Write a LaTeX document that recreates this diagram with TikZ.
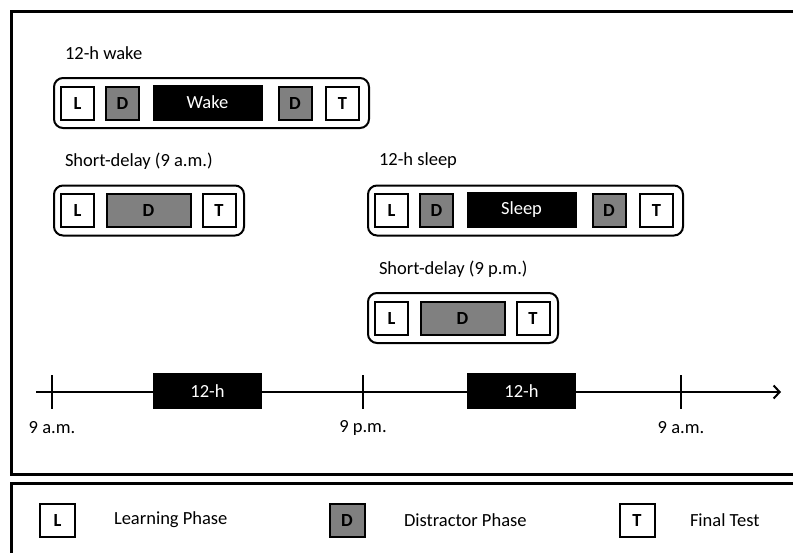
\documentclass[tikz,border=0pt]{standalone}
\usepackage{fontspec}
\setmainfont{Carlito}
\usepackage{tikz}
\usetikzlibrary{arrows.meta,positioning}

\newcommand{\figfont}{\fontsize{18.5}{22}\selectfont}

\tikzset{
  phase/.style={draw, line width=2pt, minimum width=33pt, minimum height=33pt, inner sep=0pt, font=\figfont\bfseries},
  distract/.style={phase, fill=gray},
  block/.style={fill=black, text=white, minimum height=36pt, inner sep=0pt, font=\figfont},
  protocol/.style={draw, line width=2pt, rounded corners=9pt, minimum height=50pt, inner sep=0pt},
  caption/.style={anchor=west, inner sep=0pt, font=\figfont}
}

\begin{document}
\begin{tikzpicture}[x=1pt, y=-1pt, line width=2pt]
\useasboundingbox (0,0) rectangle (793,552);
% two panels, running off the page on the right
\draw[line width=3pt] (11,11) rectangle (830,474);
\draw[line width=3pt] (11,483) rectangle (830,590);

% 12-h conditions: L D block D T
\foreach \px/\py/\what/\name/\title in {53/103/Wake/wake/12-h wake, 367/210.5/Sleep/sleep/12-h sleep} {
  \node[protocol, minimum width=315pt, anchor=west] (\name) at (\px,\py) {};
  \node[caption] (\name-title) at (\px+11,\py-50) {\title};
  \node[phase] (\name-L) at (\px+24.5,\py) {L};
  \node[distract] (\name-D1) at (\px+69.5,\py) {D};
  \node[block, minimum width=110pt] (\name-mid) at (\px+154.5,\py-0.5) {\what};
  \node[distract] (\name-D2) at (\px+242,\py) {D};
  \node[phase] (\name-T) at (\px+289.5,\py) {T};
}

% short-delay conditions: L D T
\foreach \px/\py/\when/\name in {53/210.5/9 a.m./am, 367/318/9 p.m./pm} {
  \node[protocol, minimum width=190pt, anchor=west] (short-\name) at (\px,\py) {};
  \node[caption] (short-\name-title) at (\px+11,\py-49) {Short-delay (\when)};
  \node[phase] (short-\name-L) at (\px+24.5,\py) {L};
  \node[distract, minimum width=84pt] (short-\name-D) at (\px+95.5,\py) {D};
  \node[phase] (short-\name-T) at (\px+166,\py) {T};
}

% time line
\coordinate (tstart) at (36,392);
\coordinate (tend) at (781,392);
\draw[-{Straight Barb[length=6pt,width=13pt]}] (tstart) -- (tend);
\foreach \x/\t/\name in {52/9 a.m./am1, 363/9 p.m./pm1, 681/9 a.m./am2} {
  \draw (\x,375) -- (\x,409);
  \node[font=\figfont] (\name) at (\x,428) {\t};
}
\node[block, minimum width=109pt] (day) at (207.5,391) {12-h};
\node[block, minimum width=109pt] (night) at (521.5,391) {12-h};

% key
\node[phase, minimum width=35pt] (key-L) at (57.5,520) {L};
\node[caption] (key-L-text) at (113,520) {Learning Phase};
\node[distract, minimum width=35pt] (key-D) at (347,520) {D};
\node[caption] (key-D-text) at (403,520) {Distractor Phase};
\node[phase, minimum width=35pt] (key-T) at (637,520) {T};
\node[caption] (key-T-text) at (689,520) {Final Test};
\end{tikzpicture}
\end{document}
